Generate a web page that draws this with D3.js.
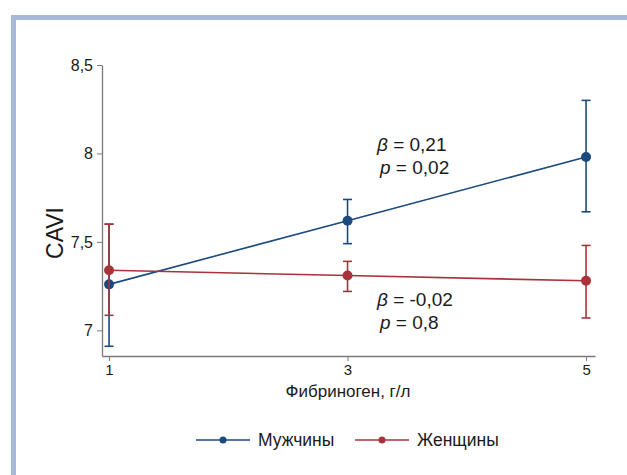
<!DOCTYPE html>
<html>
  <head>
    <script type="text/javascript" src="https://cdn.jsdelivr.net/npm/d3@7"></script>
    <style>
      body { margin: 0; background: #fff; }
      text { font-family: "Liberation Sans", Arial, sans-serif; fill: #1a1a1a; }
    </style>
  </head>
  <body>
    <script type="text/javascript">
      // CAVI vs fibrinogen, men and women
      var w = 627;
      var h = 475;

      var fibrinogen = [1, 3, 5];
      var menMean = [7.26, 7.62, 7.98];
      var menLow = [6.91, 7.49, 7.67];
      var menHigh = [7.60, 7.74, 8.30];
      var womenMean = [7.34, 7.31, 7.28];
      var womenLow = [7.085, 7.22, 7.07];
      var womenHigh = [7.60, 7.39, 7.48];
      var yTicks = [7, 7.5, 8, 8.5];
      var seriesNames = ["Мужчины", "Женщины"];
      var menStats = ["0,21", "0,02"];
      var womenStats = ["-0,02", "0,8"];

      var blue = "#1b4a7c";
      var red = "#a8333a";
      var axisColor = "#7a7a7a";

      var svg = d3.select("body").append("svg")
        .attr("width", w)
        .attr("height", h);

      // light blue frame (top + left)
      svg.append("rect").attr("x", 11).attr("y", 15).attr("width", w - 11).attr("height", 5).attr("fill", "#a7b9da");
      svg.append("rect").attr("x", 11).attr("y", 15).attr("width", 5).attr("height", h - 15).attr("fill", "#a7b9da");

      var xScale = d3.scaleLinear().domain([0.941, 5.075]).range([102, 595]);
      var yScale = d3.scaleLinear().domain([6.855, 8.5]).range([356, 65]);

      var fmt = d => String(d).replace(".", ",");

      var xAxis = svg.append("g")
        .attr("transform", "translate(0,356)")
        .call(d3.axisBottom(xScale).tickValues(fibrinogen).tickFormat(d3.format("d")).tickSize(5).tickSizeOuter(0).tickPadding(3));
      var yAxis = svg.append("g")
        .attr("transform", "translate(102,0)")
        .call(d3.axisLeft(yScale).tickValues(yTicks).tickFormat(fmt).tickSize(5).tickSizeOuter(0).tickPadding(4));

      [xAxis, yAxis].forEach(a => {
        a.select(".domain").attr("stroke", axisColor).attr("stroke-width", 1.3);
        a.selectAll(".tick line").attr("stroke", axisColor).attr("stroke-width", 1);
        a.selectAll(".tick text").attr("fill", "#1a1a1a").style("font-family", "'Liberation Sans', Arial, sans-serif");
      });
      xAxis.selectAll(".tick text").style("font-size", "15px");
      yAxis.selectAll(".tick text").style("font-size", "16px");

      svg.append("text")
        .attr("x", 348).attr("y", 397)
        .attr("text-anchor", "middle")
        .style("font-size", "17px")
        .text("Фибриноген, г/л");

      svg.append("text")
        .attr("transform", "translate(63,233) rotate(-90)")
        .attr("text-anchor", "middle")
        .style("font-size", "23px")
        .text("CAVI");

      function drawSeries(mean, low, high, color) {
        var g = svg.append("g");
        var line = d3.line().x((d, i) => xScale(fibrinogen[i])).y(d => yScale(d));
        g.append("path").datum(mean)
          .attr("d", line)
          .attr("fill", "none")
          .attr("stroke", color)
          .attr("stroke-width", 1.6);
        fibrinogen.forEach((f, i) => {
          var cx = xScale(f);
          g.append("line")
            .attr("x1", cx).attr("x2", cx)
            .attr("y1", yScale(low[i])).attr("y2", yScale(high[i]))
            .attr("stroke", color).attr("stroke-width", 1.6);
          [low[i], high[i]].forEach(v => {
            g.append("line")
              .attr("x1", cx - 4.5).attr("x2", cx + 4.5)
              .attr("y1", yScale(v)).attr("y2", yScale(v))
              .attr("stroke", color).attr("stroke-width", 1.6);
          });
        });
        g.selectAll("circle").data(mean).enter().append("circle")
          .attr("cx", (d, i) => xScale(fibrinogen[i]))
          .attr("cy", d => yScale(d))
          .attr("r", 5)
          .attr("fill", color);
      }

      drawSeries(menMean, menLow, menHigh, blue);
      drawSeries(womenMean, womenLow, womenHigh, red);

      // beta / p annotations
      function stats(x, y, vals) {
        var t1 = svg.append("text").attr("x", x).attr("y", y).style("font-size", "19px");
        t1.append("tspan").style("font-style", "italic").text("β");
        t1.append("tspan").text(" = " + vals[0]);
        var t2 = svg.append("text").attr("x", x + 3).attr("y", y + 23).style("font-size", "19px");
        t2.append("tspan").style("font-style", "italic").text("p");
        t2.append("tspan").text(" = " + vals[1]);
      }
      stats(377, 151, menStats);
      stats(377, 306, womenStats);

      // legend
      var legend = svg.append("g").attr("transform", "translate(0,440)");
      [[196, blue], [355, red]].forEach((d, i) => {
        legend.append("line")
          .attr("x1", d[0]).attr("x2", d[0] + 54)
          .attr("stroke", d[1]).attr("stroke-width", 1.6);
        legend.append("circle").attr("cx", d[0] + 27).attr("r", 3.5).attr("fill", d[1]);
        legend.append("text")
          .attr("x", d[0] + 62).attr("y", 6)
          .style("font-size", "17.5px")
          .text(seriesNames[i]);
      });
    </script>
  </body>
</html>
